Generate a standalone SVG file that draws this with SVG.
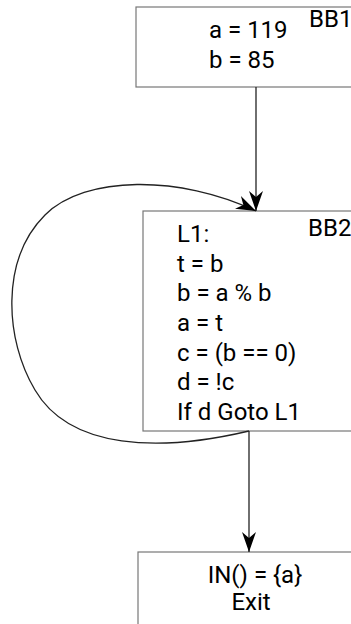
<svg xmlns="http://www.w3.org/2000/svg" width="351" height="624" viewBox="0 0 351 624">
<style>
.box{fill:#fff;stroke:#777;stroke-width:1.2}
.t{font-family:Roboto,"Liberation Sans",sans-serif;font-size:24px;fill:#000}
.e{fill:none;stroke:#222;stroke-width:1.3}
</style>
<defs>
<marker id="ah" viewBox="0 0 20 14" refX="20" refY="7" markerWidth="20" markerHeight="14" markerUnits="userSpaceOnUse" orient="auto">
<path d="M0,0 L20,7 L0,14 L6,7 Z" fill="#000"/>
</marker>
</defs>
<rect width="351" height="624" fill="#fff"/>
<g id="BB1">
<rect class="box" x="136" y="7" width="240" height="80"/>
<text class="t" x="209" y="38">a = 119</text>
<text class="t" x="209" y="68">b = 85</text>
<text class="t" x="309" y="27">BB1</text>
</g>
<g id="BB2">
<rect class="box" x="143" y="211" width="240" height="220"/>
<text class="t" x="177" y="242">L1:</text>
<text class="t" x="177" y="272">t = b</text>
<text class="t" x="177" y="301">b = a % b</text>
<text class="t" x="177" y="331">a = t</text>
<text class="t" x="177" y="361">c = (b == 0)</text>
<text class="t" x="177" y="390">d = !c</text>
<text class="t" x="177" y="420">If d Goto L1</text>
<text class="t" x="308" y="236">BB2</text>
</g>
<g id="Exit">
<rect class="box" x="138" y="552" width="240" height="90"/>
<text class="t" x="255" y="583" text-anchor="middle">IN() = {a}</text>
<text class="t" x="251" y="610" text-anchor="middle">Exit</text>
</g>
<g id="edges">
<path class="e" d="M256,87 L256,211" marker-end="url(#ah)"/>
<path class="e" d="M249,431 L249,552" marker-end="url(#ah)"/>
<path class="e" d="M249,431 C160,452 70,450 35,390 C5,340 0,260 45,215 C85,175 180,175 256,211" marker-end="url(#ah)"/>
</g>
</svg>
